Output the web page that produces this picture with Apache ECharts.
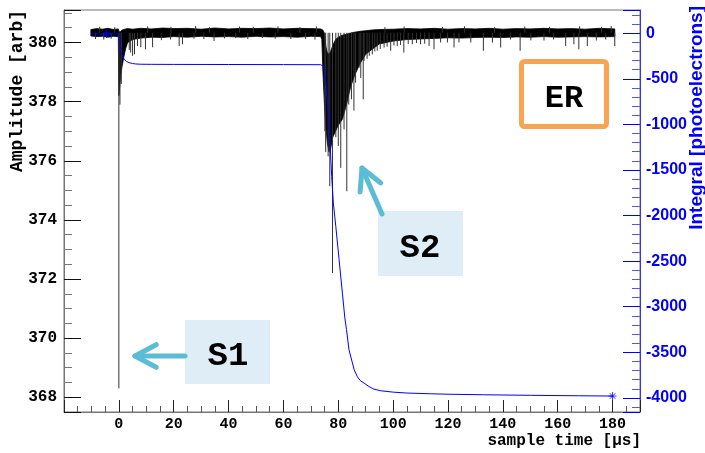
<!DOCTYPE html>
<html>
<head>
<meta charset="utf-8">
<script src="https://cdn.jsdelivr.net/npm/echarts@6/dist/echarts.min.js"></script>
<style>
  html, body { margin: 0; padding: 0; background: #ffffff; }
  #chart { width: 705px; height: 453px; }
</style>
</head>
<body>
<div id="chart"></div>
<script>
// Digitised waveform: dense noise envelope of the amplitude trace [arb]
const bandTime = [-10.2, -8, -6, -4, -2, -0.2, 0.0, 0.3, 0.7, 1.2, 1.8, 2.5, 3.2, 5, 8, 12, 16, 20, 25, 30, 35, 40, 45, 50, 55, 60, 65, 70, 73.6,
  74.0, 74.4, 75.0, 75.5, 76.0, 76.6, 77.2, 78.0, 79.0, 80.0, 81.5, 83.0, 84.5, 86.0, 88.0, 90.0, 92.0, 95.0,
  100, 105, 110, 115, 120, 125, 130, 135, 140, 145, 150, 155, 160, 165, 170, 175, 180.8];
const bandHigh = [380.44, 380.47, 380.45, 380.48, 380.44, 380.46, 380.40, 380.35, 380.38, 380.42, 380.44, 380.46, 380.47, 380.45, 380.48, 380.46, 380.49, 380.47, 380.48, 380.45, 380.49, 380.46, 380.48, 380.47, 380.49, 380.46, 380.48, 380.47, 380.46,
  380.44, 380.42, 380.30, 379.85, 379.65, 379.60, 379.70, 379.90, 380.10, 380.18, 380.25, 380.28, 380.32, 380.35, 380.38, 380.40, 380.42, 380.44,
  380.45, 380.47, 380.46, 380.48, 380.45, 380.47, 380.46, 380.48, 380.45, 380.47, 380.46, 380.48, 380.46, 380.47, 380.45, 380.48, 380.46];
const bandLow = [380.22, 380.20, 380.21, 380.18, 380.21, 380.20, 378.20, 378.50, 378.90, 379.20, 379.50, 379.80, 380.00, 380.10, 380.15, 380.18, 380.17, 380.20, 380.18, 380.21, 380.19, 380.20, 380.18, 380.21, 380.19, 380.20, 380.18, 380.21, 380.20,
  380.10, 379.00, 377.80, 377.10, 376.60, 376.30, 376.40, 376.80, 377.00, 377.20, 377.40, 377.90, 378.50, 378.90, 379.30, 379.60, 379.75, 379.95,
  380.05, 380.10, 380.12, 380.14, 380.16, 380.15, 380.17, 380.18, 380.17, 380.19, 380.18, 380.20, 380.18, 380.19, 380.20, 380.19, 380.20];

// Individual excursions of the trace: sample time [us] and tip amplitude [arb]
const spikeTime = [-8.5, -7.0, -5.5, -2.8, -1.5,
  0.0, 0.4, 0.9, 3.8, 4.3, 5.0, 5.7, 6.8, 8.0, 9.7, 10.5, 12.3, 15.5, 18.8, 19.0, 22.0, 23.2, 27.4, 28.0, 31.0, 33.0, 34.7, 38.5, 42.6, 44.0,
  47.0, 49.0, 52.3, 57.0, 58.0, 62.7, 66.0, 68.1, 71.5, 72.0,
  75.1, 75.4, 76.3, 76.9, 77.9, 79.1, 80.0, 80.9, 82.1, 83.1, 83.8, 84.8, 85.7, 86.3, 87.6, 88.2, 89.1, 89.4,
  90.5, 91.3, 92.4, 93.3, 94.2, 95.3, 96.7, 97.0, 97.8, 99.1, 100.3, 101.5, 102.7, 103.9, 104.0, 105.5, 107.0, 108.5, 110.0, 111.5,
  113.1, 114.9, 117.3, 118.0, 119.8, 122.2, 124.0, 126.0, 128.3, 132.9, 136.2, 137.0, 139.2, 142.8, 146.3, 148.0, 150.2, 155.0,
  157.0, 158.5, 162.9, 165.9, 167.7, 168.0, 170.8, 174.1, 176.0, 177.5, 179.5, 180.8];
const spikeTip = [380.12, 380.53, 380.10, 380.13, 380.52,
  368.30, 377.90, 378.60, 379.75, 379.66, 379.55, 379.60, 379.88, 379.84, 379.77, 380.55, 379.84, 380.08, 380.10, 380.53, 379.88, 379.94, 380.13, 380.56, 380.12, 380.52, 380.05, 380.14, 380.15, 380.54,
  380.12, 380.53, 380.15, 380.13, 380.55, 380.12, 380.52, 380.12, 380.10, 380.54,
  377.00, 376.30, 376.15, 375.14, 372.20, 376.80, 376.50, 375.76, 377.06, 374.97, 377.90, 378.08, 377.70, 378.64, 379.15, 378.80, 378.08, 379.38,
  379.45, 379.55, 379.60, 379.70, 379.72, 379.78, 379.83, 380.52, 379.86, 379.72, 379.90, 379.88, 379.92, 379.66, 380.54, 379.95, 379.94, 379.98, 379.94, 379.96,
  379.88, 379.77, 380.00, 380.53, 380.00, 379.83, 380.00, 380.55, 380.00, 379.72, 380.00, 380.52, 379.83, 380.10, 379.72, 380.54, 380.07, 380.07,
  380.53, 380.10, 379.88, 379.94, 379.77, 380.55, 379.88, 380.07, 380.53, 380.10, 380.56, 379.88];
const spikeBase = 380.33;

// Running integral of the pulse [photoelectrons]
const integralTime = [-10.2, -4.5, -0.2, 0.1, 0.4, 0.7, 1.2, 1.9, 2.8, 3.7, 5.0, 6.1, 8.0, 12, 20, 40, 60, 73.6,
  74.1, 74.8, 75.4, 76.3, 77.0, 77.6, 78.2, 79.1, 80.3, 81.5, 82.4, 83.0, 83.9, 85.0, 85.8, 86.9, 88.0, 89.4, 91.2, 93.0, 95.5,
  100, 105, 113.7, 120, 133, 150, 167.6, 180];
const integralValue = [-8, -8, -8, -30, -110, -183, -240, -285, -310, -322, -332, -337, -340, -341, -342, -343, -344, -345,
  -350, -366, -512, -841, -1206, -1572, -1864, -2120, -2485, -2851, -3125, -3250, -3472, -3600, -3692, -3765, -3810, -3838, -3876, -3904, -3922,
  -3937, -3947, -3955, -3960, -3966, -3972, -3977, -3980];
const markerTime = [-4.5, 180];
const markerValue = [-8, -3980];

// Tick labels shown on the time axis
const timeTickLabels = [0, 20, 40, 60, 80, 100, 120, 140, 160, 180];

const MONO = '"Liberation Mono", "DejaVu Sans Mono", monospace';
const SANS = '"Liberation Sans", Arial, sans-serif';
const BLUE = '#0000ff';
const ARROW = '#5bbcd5';

function arrowHead(tip, from, len, deg) {
  const dx = from[0] - tip[0], dy = from[1] - tip[1];
  const n = Math.hypot(dx, dy);
  const bx = dx / n, by = dy / n;
  const a = deg * Math.PI / 180;
  const c = Math.cos(a), s = Math.sin(a);
  const p1 = [tip[0] + len * (bx * c - by * s), tip[1] + len * (bx * s + by * c)];
  const p2 = [tip[0] + len * (bx * c + by * s), tip[1] + len * (-bx * s + by * c)];
  return [p1, tip, p2];
}

function arrow(from, tip) {
  const style = { stroke: ARROW, lineWidth: 5, lineCap: 'round', lineJoin: 'round', fill: null };
  return [
    { type: 'line', shape: { x1: from[0], y1: from[1], x2: tip[0], y2: tip[1] }, style: style, z: 100 },
    { type: 'polyline', shape: { points: arrowHead(tip, from, 24, 28) }, style: style, z: 100 }
  ];
}

const chart = echarts.init(document.getElementById('chart'), null, { renderer: 'canvas' });

const option = {
  animation: false,
  backgroundColor: '#ffffff',
  grid: { left: 64, right: 65, top: 10, bottom: 41, show: true, borderColor: '#777', borderWidth: 1, backgroundColor: 'transparent' },
  xAxis: {
    type: 'value', min: -20, max: 190, interval: 20,
    axisLine: { show: true, onZero: false, lineStyle: { color: '#777', width: 1 } },
    axisTick: { show: true, inside: true, length: 12, lineStyle: { color: '#222' } },
    minorTick: { show: true, splitNumber: 4, length: 6, lineStyle: { color: '#555' } },
    splitLine: { show: false },
    axisLabel: {
      showMinLabel: false, showMaxLabel: false, margin: 5,
      color: '#000', fontFamily: MONO, fontWeight: 'bold', fontSize: 15,
      formatter: v => timeTickLabels.indexOf(v) >= 0 ? String(v) : ''
    }
  },
  yAxis: [
    {
      type: 'value', min: 367.5, max: 381.1, splitNumber: 7, position: 'left',
      axisLine: { show: true, onZero: false, lineStyle: { color: '#777', width: 1 } },
      axisTick: { show: true, inside: true, length: 17, lineStyle: { color: '#111' } },
      minorTick: { show: true, splitNumber: 4, length: 8, lineStyle: { color: '#777' } },
      splitLine: { show: false },
      axisLabel: { showMinLabel: false, showMaxLabel: false, margin: 7, color: '#000', fontFamily: MONO, fontWeight: 'bold', fontSize: 16,
        formatter: v => String(v) }
    },
    {
      type: 'value', min: -4155, max: 255, splitNumber: 9, position: 'right',
      axisLine: { show: true, onZero: false, lineStyle: { color: '#3333ff', width: 1 } },
      axisTick: { show: true, inside: true, length: 17, lineStyle: { color: BLUE } },
      minorTick: { show: true, splitNumber: 5, length: 8, lineStyle: { color: '#5555ff' } },
      splitLine: { show: false },
      axisLabel: { showMinLabel: false, showMaxLabel: false, margin: 6, color: BLUE, fontFamily: SANS, fontWeight: 'bold', fontSize: 16,
        formatter: v => String(v) }
    }
  ],
  series: [
    {
      name: 'envelope', type: 'custom', xAxisIndex: 0, yAxisIndex: 0, z: 2, silent: true,
      data: [[bandTime[0], bandHigh[0]]],
      encode: { x: 0, y: 1 },
      renderItem: function (params, api) {
        const upper = bandTime.map((t, i) => api.coord([t, bandHigh[i]]));
        const lower = bandTime.map((t, i) => api.coord([t, bandLow[i]])).reverse();
        return { type: 'polygon', shape: { points: upper.concat(lower) }, style: { fill: '#000', stroke: '#000', lineWidth: 0.8 } };
      }
    },
    {
      name: 'excursions', type: 'custom', xAxisIndex: 0, yAxisIndex: 0, z: 3, silent: true,
      data: spikeTime.map((t, i) => [t, spikeTip[i]]),
      encode: { x: 0, y: 1 },
      renderItem: function (params, api) {
        const p0 = api.coord([api.value(0), spikeBase]);
        const p1 = api.coord([api.value(0), api.value(1)]);
        return { type: 'line', shape: { x1: p0[0], y1: p0[1], x2: p1[0], y2: p1[1] }, style: { stroke: '#333', lineWidth: 1 } };
      }
    },
    {
      name: 'integral', type: 'line', xAxisIndex: 0, yAxisIndex: 1, z: 5,
      data: integralTime.map((t, i) => [t, integralValue[i]]),
      showSymbol: false, symbol: 'none',
      lineStyle: { color: BLUE, width: 1 }
    },
    {
      name: 'markers', type: 'scatter', xAxisIndex: 0, yAxisIndex: 1, z: 6,
      data: markerTime.map((t, i) => [t, markerValue[i]]),
      symbol: 'path://M5,0L5,10M0,5L10,5M1.5,1.5L8.5,8.5M8.5,1.5L1.5,8.5',
      symbolSize: 8,
      itemStyle: { color: 'rgba(0,0,0,0)', borderColor: BLUE, borderWidth: 1 }
    }
  ],
  graphic: [
    // axis titles
    { type: 'text', x: 17, y: 10, rotation: Math.PI / 2, z: 50,
      style: { text: 'Amplitude [arb]', fill: '#000', font: 'bold 18px ' + MONO, textAlign: 'right', textVerticalAlign: 'middle' } },
    { type: 'text', x: 697, y: 6, rotation: Math.PI / 2, z: 50,
      style: { text: 'Integral [photoelectrons]', fill: BLUE, font: 'bold 19px ' + SANS, textAlign: 'right', textVerticalAlign: 'middle' } },
    { type: 'text', x: 641, y: 441, z: 50,
      style: { text: 'sample time [\u00b5s]', fill: '#000', font: 'bold 16px ' + MONO, textAlign: 'right', textVerticalAlign: 'middle' } },

    // S1 label
    { type: 'rect', shape: { x: 185, y: 320, width: 85, height: 64 }, style: { fill: '#dfeef6' }, z: 90 },
    { type: 'text', x: 228, y: 356, z: 95,
      style: { text: 'S1', fill: '#000', font: 'bold 34px ' + MONO, textAlign: 'center', textVerticalAlign: 'middle' } },
    ...arrow([185, 356], [135, 356]),

    // S2 label
    { type: 'rect', shape: { x: 378, y: 211, width: 85, height: 65 }, style: { fill: '#dfeef6' }, z: 90 },
    { type: 'text', x: 420, y: 248, z: 95,
      style: { text: 'S2', fill: '#000', font: 'bold 34px ' + MONO, textAlign: 'center', textVerticalAlign: 'middle' } },
    ...arrow([382, 214], [362, 168]),

    // ER tag
    { type: 'rect', shape: { x: 521.5, y: 61.5, width: 85, height: 65, r: 3 }, style: { fill: '#fff', stroke: '#f7a552', lineWidth: 5 }, z: 90 },
    { type: 'text', x: 564, y: 99, z: 95,
      style: { text: 'ER', fill: '#000', font: 'bold 32px ' + MONO, textAlign: 'center', textVerticalAlign: 'middle' } }
  ]
};

chart.setOption(option);
</script>
</body>
</html>
